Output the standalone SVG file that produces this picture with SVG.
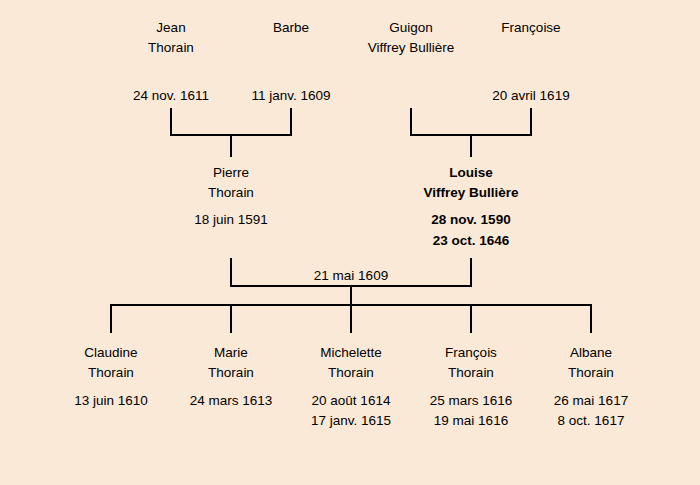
<svg xmlns="http://www.w3.org/2000/svg" width="700" height="485" viewBox="0 0 700 485">
<style>
text{font-family:"Liberation Sans","DejaVu Sans",sans-serif;font-size:13.5px;text-anchor:middle;fill:#000}
.b{font-weight:bold}
.c{stroke:#000;stroke-width:2;fill:none}
</style>
<rect width="700" height="485" fill="#fbe9d7"/>
<g id="connectors">
<path class="c" d="M171,108V135H291V108M231,135V157"/>
<path class="c" d="M411,108V135H531V108M471,135V157"/>
<path class="c" d="M231,258V286H471V258M351,286V305"/>
<path class="c" d="M111,333V305H591V333M231,305V333M351,305V333M471,305V333"/>
<text x="351" y="280">21 mai 1609</text>
</g>
<g id="jean"><text x="171" y="32">Jean</text><text x="171" y="52">Thorain</text><text x="171" y="100">24 nov. 1611</text></g>
<g id="barbe"><text x="291" y="32">Barbe</text><text x="291" y="100">11 janv. 1609</text></g>
<g id="guigon"><text x="411" y="32">Guigon</text><text x="411" y="52">Viffrey Bullière</text></g>
<g id="francoise"><text x="531" y="32">Françoise</text><text x="531" y="100">20 avril 1619</text></g>
<g id="pierre"><text x="231" y="177">Pierre</text><text x="231" y="197">Thorain</text><text x="231" y="224">18 juin 1591</text></g>
<g id="louise" class="b"><text x="471" y="177" class="b">Louise</text><text x="471" y="197" class="b">Viffrey Bullière</text><text x="471" y="224" class="b">28 nov. 1590</text><text x="471" y="245" class="b">23 oct. 1646</text></g>
<g id="claudine"><text x="111" y="357">Claudine</text><text x="111" y="377">Thorain</text><text x="111" y="405">13 juin 1610</text></g>
<g id="marie"><text x="231" y="357">Marie</text><text x="231" y="377">Thorain</text><text x="231" y="405">24 mars 1613</text></g>
<g id="michelette"><text x="351" y="357">Michelette</text><text x="351" y="377">Thorain</text><text x="351" y="405">20 août 1614</text><text x="351" y="425">17 janv. 1615</text></g>
<g id="francois"><text x="471" y="357">François</text><text x="471" y="377">Thorain</text><text x="471" y="405">25 mars 1616</text><text x="471" y="425">19 mai 1616</text></g>
<g id="albane"><text x="591" y="357">Albane</text><text x="591" y="377">Thorain</text><text x="591" y="405">26 mai 1617</text><text x="591" y="425">8 oct. 1617</text></g>
</svg>
